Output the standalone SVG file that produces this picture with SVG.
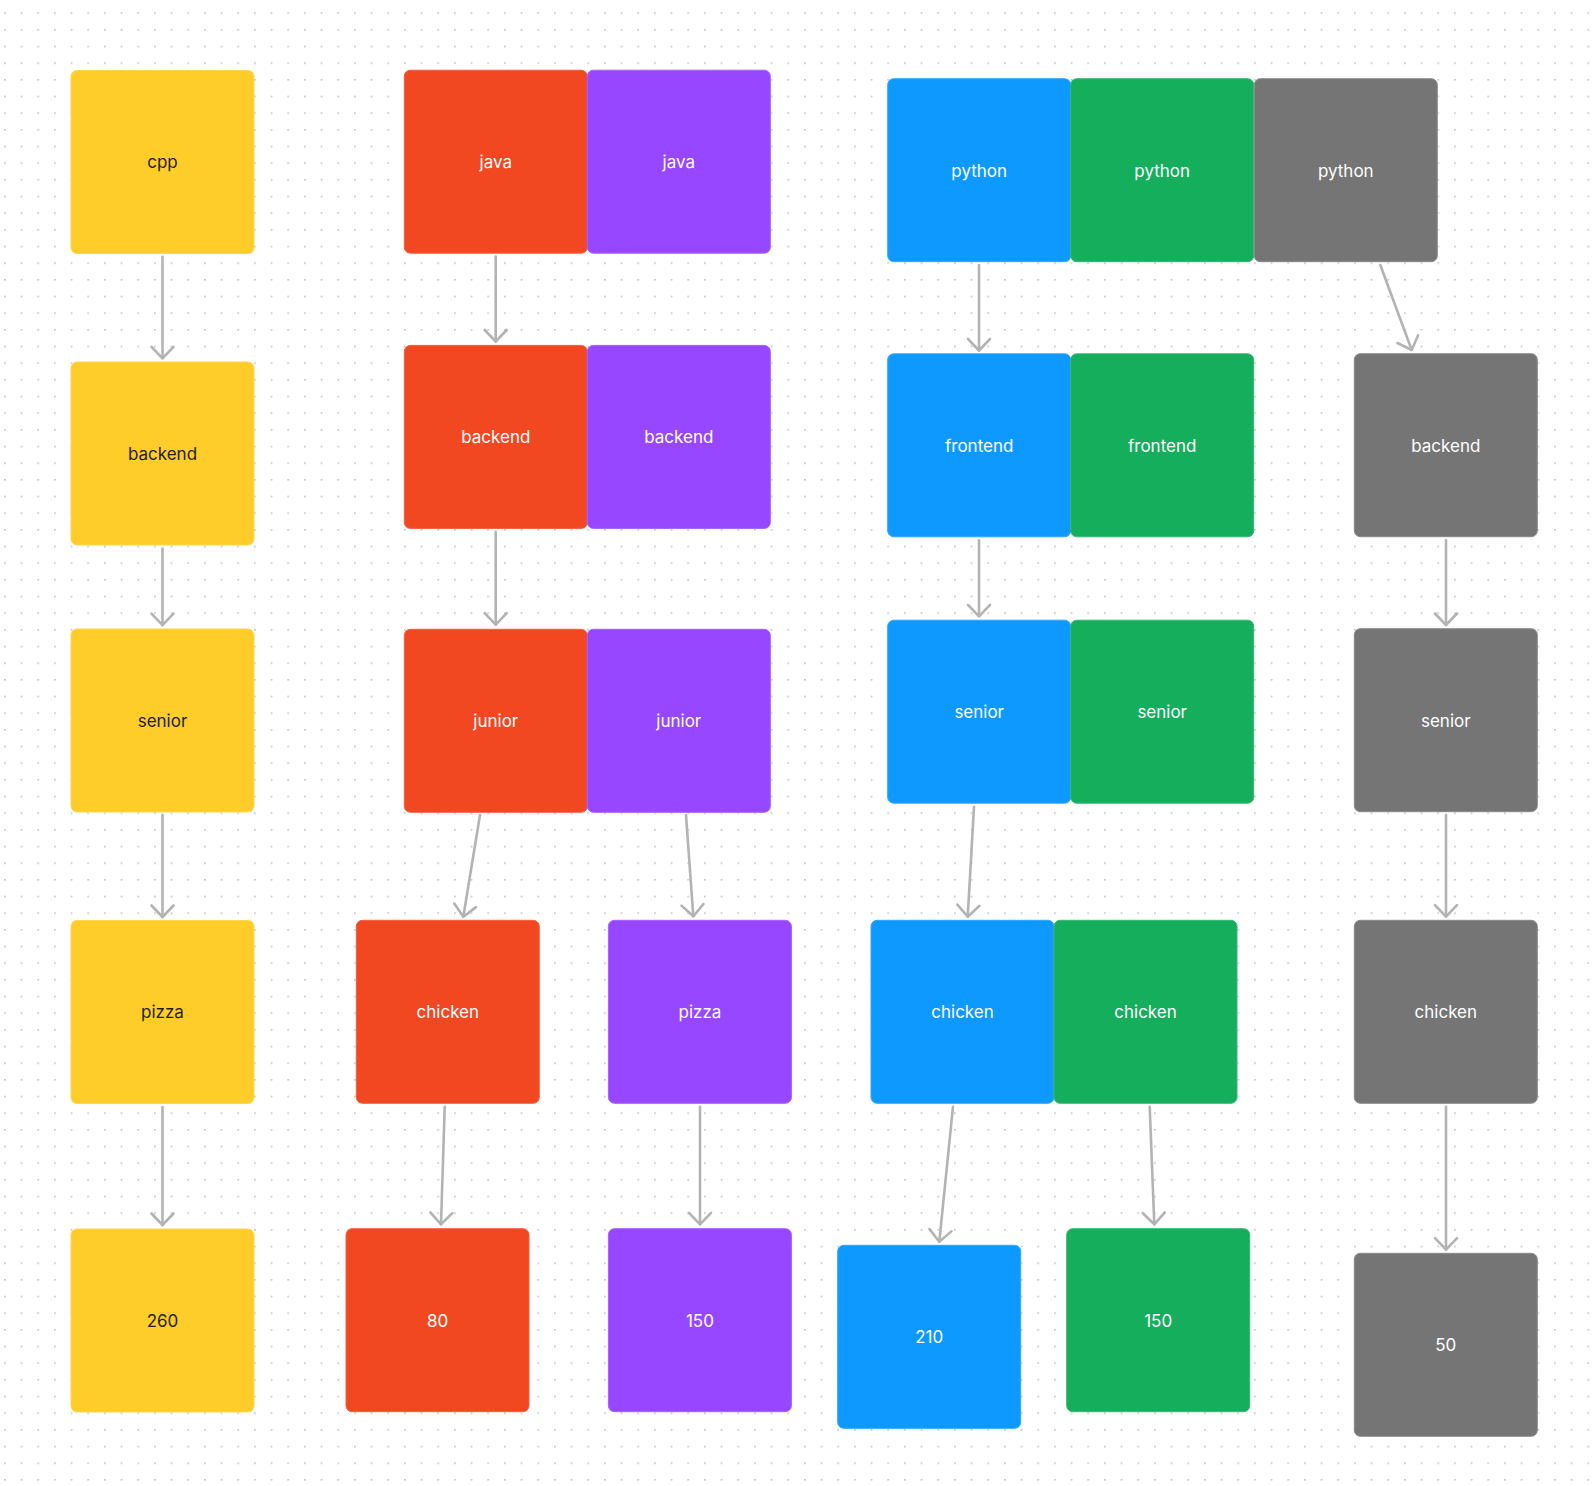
<svg xmlns="http://www.w3.org/2000/svg" width="1592" height="1486" viewBox="0 0 1592 1486">
<defs>
<pattern id="dots" x="4" y="12.33" width="16.667" height="16.667" patternUnits="userSpaceOnUse">
<circle cx="0.8" cy="0.8" r="1" fill="#c4c4c4"/>
</pattern>
<marker id="ah" markerUnits="userSpaceOnUse" markerWidth="30" markerHeight="30" viewBox="-15 -15 30 30" refX="0" refY="0" orient="auto" overflow="visible">
<path d="M-11.5,-11 L0,0 L-11.5,11" fill="none" stroke="#b3b3b3" stroke-width="2.6" stroke-linecap="round" stroke-linejoin="round"/>
</marker>
</defs>
<style>
.n{stroke-width:1}
.y{fill:#ffcd29;stroke:#ffd650}
.r{fill:#f24822;stroke:#f45e3d}
.p{fill:#9747ff;stroke:#a560ff}
.b{fill:#0d99ff;stroke:#30a7ff}
.g{fill:#14ae5c;stroke:#34b972}
.k{fill:#757575;stroke:#8a8a8a}
text{font-family:Inter,"Noto Sans","Liberation Sans",sans-serif;font-size:17px;text-anchor:middle;fill:#ffffff}
text.d{fill:#1e1e1e}
.c line{stroke:#b3b3b3;stroke-width:2.6;stroke-linecap:round;marker-end:url(#ah)}
</style>
<rect width="1592" height="1486" fill="#ffffff"/>
<rect width="1592" height="1486" fill="url(#dots)"/>

<g id="connectors" class="c">
<line x1="162.5" y1="256.7" x2="162.5" y2="358.3"/>
<line x1="162.5" y1="548.5" x2="162.5" y2="625.1"/>
<line x1="162.5" y1="814.9" x2="162.5" y2="917"/>
<line x1="162.5" y1="1107" x2="162.5" y2="1225"/>
<line x1="495.7" y1="256.6" x2="495.7" y2="341.5"/>
<line x1="495.7" y1="531.7" x2="495.7" y2="624.7"/>
<line x1="480" y1="815" x2="463.3" y2="916.7"/>
<line x1="686" y1="815" x2="693.3" y2="916.3"/>
<line x1="444.7" y1="1106.7" x2="441" y2="1224.3"/>
<line x1="700" y1="1106.7" x2="700" y2="1224.3"/>
<line x1="979" y1="265" x2="979" y2="350.5"/>
<line x1="979" y1="540.2" x2="979" y2="616.3"/>
<line x1="974" y1="806.7" x2="967.7" y2="916.7"/>
<line x1="953" y1="1106.7" x2="939.3" y2="1241.7"/>
<line x1="1149.7" y1="1106.7" x2="1154.3" y2="1224.3"/>
<line x1="1380.3" y1="265" x2="1411.7" y2="350"/>
<line x1="1446" y1="540" x2="1446" y2="625"/>
<line x1="1446" y1="815" x2="1446" y2="916.7"/>
<line x1="1446" y1="1106.7" x2="1446" y2="1249.7"/>
</g>

<g id="cpp"><rect class="n y" x="71" y="70.5" width="183" height="183" rx="6"/><text class="d" x="162.5" y="168.3">cpp</text></g>
<g id="cpp-backend"><rect class="n y" x="71" y="362" width="183" height="183" rx="6"/><text class="d" x="162.5" y="459.8">backend</text></g>
<g id="cpp-senior"><rect class="n y" x="71" y="629" width="183" height="183" rx="6"/><text class="d" x="162.5" y="726.8">senior</text></g>
<g id="cpp-pizza"><rect class="n y" x="71" y="920.5" width="183" height="183" rx="6"/><text class="d" x="162.5" y="1018.3">pizza</text></g>
<g id="cpp-260"><rect class="n y" x="71" y="1229" width="183" height="183" rx="6"/><text class="d" x="162.5" y="1326.8">260</text></g>

<g id="java-red"><rect class="n r" x="404.3" y="70.2" width="183" height="183" rx="6"/><text x="495.8" y="168">java</text></g>
<g id="java-purple"><rect class="n p" x="587.3" y="70.2" width="183" height="183" rx="6"/><text x="678.8" y="168">java</text></g>
<g id="java-red-backend"><rect class="n r" x="404.3" y="345.4" width="183" height="183" rx="6"/><text x="495.8" y="443.2">backend</text></g>
<g id="java-purple-backend"><rect class="n p" x="587.3" y="345.4" width="183" height="183" rx="6"/><text x="678.8" y="443.2">backend</text></g>
<g id="java-red-junior"><rect class="n r" x="404.3" y="629.3" width="183" height="183" rx="6"/><text x="495.8" y="727.1">junior</text></g>
<g id="java-purple-junior"><rect class="n p" x="587.3" y="629.3" width="183" height="183" rx="6"/><text x="678.8" y="727.1">junior</text></g>
<g id="java-red-chicken"><rect class="n r" x="356.3" y="920.3" width="183" height="183" rx="6"/><text x="447.8" y="1018.1">chicken</text></g>
<g id="java-purple-pizza"><rect class="n p" x="608.4" y="920.3" width="183" height="183" rx="6"/><text x="699.9" y="1018.1">pizza</text></g>
<g id="java-red-80"><rect class="n r" x="346" y="1228.7" width="183" height="183" rx="6"/><text x="437.5" y="1326.5">80</text></g>
<g id="java-purple-150"><rect class="n p" x="608.4" y="1228.7" width="183" height="183" rx="6"/><text x="699.9" y="1326.5">150</text></g>

<g id="python-blue"><rect class="n b" x="887.7" y="78.7" width="183" height="183" rx="6"/><text x="979.2" y="176.5">python</text></g>
<g id="python-green"><rect class="n g" x="1070.7" y="78.7" width="183" height="183" rx="6"/><text x="1162.2" y="176.5">python</text></g>
<g id="python-gray"><rect class="n k" x="1254.3" y="78.7" width="183" height="183" rx="6"/><text x="1345.8" y="176.5">python</text></g>
<g id="python-blue-frontend"><rect class="n b" x="887.7" y="353.8" width="183" height="183" rx="6"/><text x="979.2" y="451.6">frontend</text></g>
<g id="python-green-frontend"><rect class="n g" x="1070.7" y="353.8" width="183" height="183" rx="6"/><text x="1162.2" y="451.6">frontend</text></g>
<g id="python-gray-backend"><rect class="n k" x="1354.3" y="353.7" width="183" height="183" rx="6"/><text x="1445.8" y="451.5">backend</text></g>
<g id="python-blue-senior"><rect class="n b" x="887.7" y="620.2" width="183" height="183" rx="6"/><text x="979.2" y="718">senior</text></g>
<g id="python-green-senior"><rect class="n g" x="1070.7" y="620.2" width="183" height="183" rx="6"/><text x="1162.2" y="718">senior</text></g>
<g id="python-gray-senior"><rect class="n k" x="1354.3" y="628.7" width="183" height="183" rx="6"/><text x="1445.8" y="726.5">senior</text></g>
<g id="python-blue-chicken"><rect class="n b" x="871" y="920.3" width="183" height="183" rx="6"/><text x="962.5" y="1018.1">chicken</text></g>
<g id="python-green-chicken"><rect class="n g" x="1054" y="920.3" width="183" height="183" rx="6"/><text x="1145.5" y="1018.1">chicken</text></g>
<g id="python-gray-chicken"><rect class="n k" x="1354.3" y="920.3" width="183" height="183" rx="6"/><text x="1445.8" y="1018.1">chicken</text></g>
<g id="python-blue-210"><rect class="n b" x="837.7" y="1245.3" width="183" height="183" rx="6"/><text x="929.2" y="1343.1">210</text></g>
<g id="python-green-150"><rect class="n g" x="1066.7" y="1228.7" width="183" height="183" rx="6"/><text x="1158.2" y="1326.5">150</text></g>
<g id="python-gray-50"><rect class="n k" x="1354.3" y="1253.3" width="183" height="183" rx="6"/><text x="1445.8" y="1351.1">50</text></g>
</svg>
